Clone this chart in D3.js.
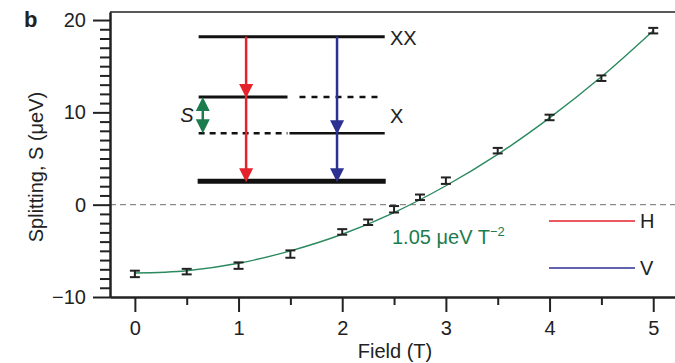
<!DOCTYPE html>
<html>
<head>
<meta charset="utf-8">
<script src="https://cdn.jsdelivr.net/npm/d3@7"></script>
<style>
  body { margin: 0; background: #fff; }
  text { font-family: Helvetica, Arial, "Liberation Sans", sans-serif; fill: #222; }
</style>
</head>
<body>
<div id="chart"></div>
<script>
// data
let field = [0, 0.5, 1, 1.5, 2, 2.25, 2.5, 2.75, 3, 3.5, 4, 4.5, 5]
let splitting = [-7.5, -7.25, -6.6, -5.35, -2.95, -1.9, -0.5, 0.8, 2.6, 5.85, 9.45, 13.7, 18.85]
let errors = [0.35, 0.3, 0.35, 0.4, 0.3, 0.3, 0.35, 0.3, 0.35, 0.3, 0.3, 0.3, 0.3]

// fitted curve (1.05 ueV T^-2), read at half-tesla steps
let fitField = [0, 0.5, 1, 1.5, 2, 2.5, 3, 3.5, 4, 4.5, 5]
let fitSplitting = [-7.4, -7.15, -6.35, -5.0, -3.2, -0.85, 2.05, 5.45, 9.4, 13.85, 18.85]

let xTicks = [0, 1, 2, 3, 4, 5]
let yTicks = [-10, 0, 10, 20]

// energy level scheme (inset), in axis units
let levelNames = ['XX', 'X+', 'X-', 'G']
let levelEnergy = [18.2, 11.65, 7.75, 2.55]

let width = 675,
    height = 363

let x = d3.scaleLinear().domain([-0.24, 5.21]).range([110, 675])
let y = d3.scaleLinear().domain([-10, 20.87]).range([297, 12])

let svg = d3.select('#chart')
  .append('svg')
    .attr('width', width)
    .attr('height', height)

let ink = '#222'
let red = '#e5222b'
let blue = '#2c3191'
let green = '#1b7c4d'
let fs = '20px'

// panel letter
svg.append('text')
  .attr('x', 24).attr('y', 27)
  .style('font-size', '22px').style('font-weight', 'bold')
  .text('b')

// zero line
svg.append('line')
  .attr('x1', x.range()[0]).attr('x2', x.range()[1])
  .attr('y1', y(0)).attr('y2', y(0))
  .attr('stroke', '#8a8a8a').attr('stroke-width', 1.3)
  .attr('stroke-dasharray', '6,4')

// top frame line
svg.append('line')
  .attr('x1', x.range()[0]).attr('x2', x.range()[1])
  .attr('y1', y.range()[1]).attr('y2', y.range()[1])
  .attr('stroke', ink).attr('stroke-width', 1.5)

// axes: minor then major ticks
function styleAxis(g) {
  g.selectAll('path').attr('stroke', ink).attr('stroke-width', 2)
  g.selectAll('line').attr('stroke', ink).attr('stroke-width', 2)
  g.selectAll('text').style('font-size', fs).attr('fill', ink)
    .style('font-family', 'Helvetica, Arial, "Liberation Sans", sans-serif')
}

svg.append('g')
  .attr('transform', `translate(0,${y.range()[0]})`)
  .call(d3.axisBottom(x).tickValues(d3.range(0.5, 5, 1)).tickSize(8).tickSizeOuter(0).tickFormat(''))
  .call(styleAxis)
svg.append('g')
  .attr('transform', `translate(0,${y.range()[0]})`)
  .call(d3.axisBottom(x).tickValues(xTicks).tickSize(15).tickSizeOuter(0).tickPadding(9).tickFormat(d3.format('d')))
  .call(styleAxis)

svg.append('g')
  .attr('transform', `translate(${x.range()[0]},0)`)
  .call(d3.axisLeft(y).tickValues(d3.range(-9, 21).filter(d => d % 10 !== 0)).tickSize(10).tickSizeOuter(0).tickFormat(''))
  .call(styleAxis)
svg.append('g')
  .attr('transform', `translate(${x.range()[0]},0)`)
  .call(d3.axisLeft(y).tickValues(yTicks).tickSize(17).tickSizeOuter(0).tickPadding(7).tickFormat(d => d < 0 ? '\u2212' + Math.abs(d) : d))
  .call(styleAxis)

// axis titles
svg.append('text')
  .attr('x', 395).attr('y', 358)
  .attr('text-anchor', 'middle')
  .style('font-size', fs)
  .text('Field (T)')

svg.append('text')
  .attr('transform', 'translate(43,167) rotate(-90)')
  .attr('text-anchor', 'middle')
  .style('font-size', fs)
  .text('Splitting, S (\u03bceV)')

// fit curve
let line = d3.line()
  .x((d, i) => x(fitField[i]))
  .y(d => y(d))
  .curve(d3.curveCatmullRom)

svg.append('path')
  .datum(fitSplitting)
  .attr('d', line)
  .attr('fill', 'none')
  .attr('stroke', '#2b8a5f')
  .attr('stroke-width', 1.4)

// error bars
let bars = svg.selectAll('.eb')
  .data(splitting)
  .enter()
  .append('g')
    .attr('class', 'eb')
    .attr('stroke', ink)
    .attr('stroke-width', 2)

bars.append('line')
  .attr('x1', (d, i) => x(field[i])).attr('x2', (d, i) => x(field[i]))
  .attr('y1', (d, i) => y(d - errors[i])).attr('y2', (d, i) => y(d + errors[i]))
bars.append('line')
  .attr('x1', (d, i) => x(field[i]) - 5).attr('x2', (d, i) => x(field[i]) + 5)
  .attr('y1', (d, i) => y(d - errors[i])).attr('y2', (d, i) => y(d - errors[i]))
bars.append('line')
  .attr('x1', (d, i) => x(field[i]) - 5).attr('x2', (d, i) => x(field[i]) + 5)
  .attr('y1', (d, i) => y(d + errors[i])).attr('y2', (d, i) => y(d + errors[i]))

// fit label
let fl = svg.append('text')
  .attr('x', 392).attr('y', 244)
  .style('font-size', fs)
  .style('fill', green)
fl.append('tspan').text('1.05 \u03bceV T')
fl.append('tspan').attr('dy', -8).style('font-size', '13px').text('\u22122')

// ---- inset: level scheme ----
let L = {}
levelNames.forEach((n, i) => L[n] = y(levelEnergy[i]))
let xl0 = x(0.615), xl1 = x(2.41), xMid = x(1.53)

function seg(x1, x2, yy, w, dash) {
  svg.append('line')
    .attr('x1', x1).attr('x2', x2).attr('y1', yy).attr('y2', yy)
    .attr('stroke', '#111').attr('stroke-width', w)
    .attr('stroke-dasharray', dash || null)
}
seg(xl0, xl1, L['XX'], 3)
seg(xl0, xMid - 6, L['X+'], 3)
seg(xMid + 6, xl1 - 6, L['X+'], 2.5, '6,6')
seg(xl0, xMid - 6, L['X-'], 2.5, '6,5')
seg(xMid - 4, xl1, L['X-'], 2.5)
seg(xl0 - 1, xl1 + 1, L['G'], 5)

function arrowHead(cx, tipY, col, dir) {
  let w = 7, h = 14
  svg.append('path')
    .attr('d', `M${cx - w},${tipY - dir * h} L${cx + w},${tipY - dir * h} L${cx},${tipY} Z`)
    .attr('fill', col)
}

// H transitions (red)
let xr = x(1.073)
svg.append('line').attr('x1', xr).attr('x2', xr).attr('y1', L['XX']).attr('y2', L['G'] - 6)
  .attr('stroke', red).attr('stroke-width', 2.5)
arrowHead(xr, L['X+'] + 1, red, 1)
arrowHead(xr, L['G'] + 1, red, 1)

// V transitions (blue)
let xb = x(1.95)
svg.append('line').attr('x1', xb).attr('x2', xb).attr('y1', L['XX']).attr('y2', L['G'] - 6)
  .attr('stroke', blue).attr('stroke-width', 2.5)
arrowHead(xb, L['X-'] + 1, blue, 1)
arrowHead(xb, L['G'] + 1, blue, 1)

// S double arrow (green)
let xs = x(0.655)
svg.append('line').attr('x1', xs).attr('x2', xs).attr('y1', L['X+'] + 6).attr('y2', L['X-'] - 6)
  .attr('stroke', green).attr('stroke-width', 2.5)
arrowHead(xs, L['X+'], green, -1)
arrowHead(xs, L['X-'], green, 1)

svg.append('text')
  .attr('x', 187).attr('y', 122)
  .attr('text-anchor', 'middle')
  .style('font-size', fs).style('font-style', 'italic')
  .text('S')
svg.append('text')
  .attr('x', 390).attr('y', 45)
  .style('font-size', fs)
  .text('XX')
svg.append('text')
  .attr('x', 390).attr('y', 123)
  .style('font-size', fs)
  .text('X')

// legend
let legendNames = ['H', 'V']
let legendColors = [red, blue]
let lg = svg.selectAll('.lg')
  .data(legendNames)
  .enter()
  .append('g')
    .attr('transform', (d, i) => `translate(549,${221 + i * 47})`)
lg.append('line')
  .attr('x1', 0).attr('x2', 86)
  .attr('stroke', (d, i) => legendColors[i]).attr('stroke-width', 1.6)
lg.append('text')
  .attr('x', 91).attr('y', 7)
  .style('font-size', fs)
  .text(d => d)
</script>
</body>
</html>
